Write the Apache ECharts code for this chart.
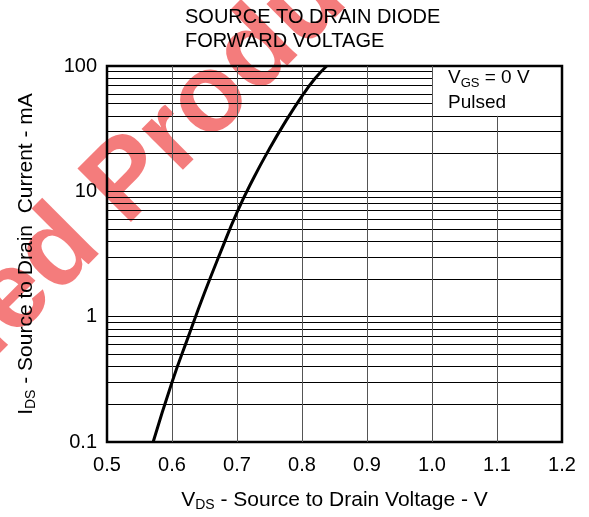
<!DOCTYPE html>
<html>
<head>
<meta charset="utf-8">
<script src="https://cdn.jsdelivr.net/npm/echarts@6/dist/echarts.min.js"></script>
<style>
  html, body { margin: 0; padding: 0; background: #fff; }
  #chart { width: 589px; height: 517px; }
</style>
</head>
<body>
<div id="chart"></div>
<script>
// curve (V, mA)
const vds = [0.571, 0.6, 0.625, 0.65, 0.675, 0.7, 0.725, 0.75, 0.775, 0.8, 0.82, 0.838];
const ids = [0.1, 0.30, 0.69, 1.55, 3.3, 6.8, 12.6, 21.9, 36.3, 57.5, 79.4, 100];

const xTicks = [0.5, 0.6, 0.7, 0.8, 0.9, 1.0, 1.1, 1.2];
const yDecades = [0.1, 1, 10, 100];
const yGridLines = [0.2, 0.3, 0.4, 0.5, 0.6, 0.7, 0.8, 0.9,
                    1, 2, 3, 4, 5, 6, 7, 8, 9,
                    10, 20, 30, 40, 50, 60, 70, 80, 90];
const xGridLines = [0.6, 0.7, 0.8, 0.9, 1.0, 1.1];

// legend box sits in the top-right corner, grid lines stop at its edge
const boxLeft = 1.0;
const boxBottom = 40;

const FONT = '"Liberation Sans", Arial, Helvetica, sans-serif';
const xMin = xTicks[0], xMax = xTicks[xTicks.length - 1];
const yMin = yDecades[0], yMax = yDecades[yDecades.length - 1];

let gridLines = [];
yGridLines.forEach(v => {
    let end = v > boxBottom ? boxLeft : xMax;
    gridLines.push([{ coord: [xMin, v] }, { coord: [end, v], lineStyle: { color: '#000' } }]);
});
xGridLines.forEach(v => {
    let end = v > boxLeft ? boxBottom : yMax;
    gridLines.push([{ coord: [v, yMin] }, { coord: [v, end], lineStyle: { color: '#555' } }]);
});

const myChart = echarts.init(document.getElementById('chart'));

let option = {
    animation: false,
    backgroundColor: '#fff',
    grid: {
        left: 107,
        right: 27,
        top: 66,
        bottom: 75,
        show: true,
        borderColor: '#000',
        borderWidth: 2.5,
        z: 3
    },
    xAxis: {
        type: 'value',
        min: xMin,
        max: xMax,
        interval: 0.1,
        axisLine: { show: false },
        axisTick: { show: false },
        splitLine: { show: false },
        axisLabel: {
            margin: 13,
            fontSize: 20,
            fontFamily: FONT,
            color: '#000',
            formatter: v => v.toFixed(1)
        },
        name: '{a|V}{b|DS}{a| - Source to Drain Voltage - V}',
        nameLocation: 'middle',
        nameGap: 46,
        nameTextStyle: {
            rich: {
                a: { fontSize: 21, fontFamily: FONT, color: '#000', lineHeight: 24 },
                b: { fontSize: 14, fontFamily: FONT, color: '#000', lineHeight: 19, verticalAlign: 'bottom' }
            }
        }
    },
    yAxis: {
        type: 'log',
        logBase: 10,
        min: yMin,
        max: yMax,
        axisLine: { show: false },
        axisTick: { show: false },
        splitLine: { show: false },
        axisLabel: {
            margin: 10,
            fontSize: 20,
            fontFamily: FONT,
            color: '#000',
            formatter: v => String(parseFloat(v.toPrecision(3)))
        },
        name: '{a|I}{b|DS}{a| - Source to Drain  Current - mA}',
        nameLocation: 'middle',
        nameRotate: 90,
        nameGap: 69,
        nameTextStyle: {
            rich: {
                a: { fontSize: 21, fontFamily: FONT, color: '#000', lineHeight: 24 },
                b: { fontSize: 14, fontFamily: FONT, color: '#000', lineHeight: 19, verticalAlign: 'bottom' }
            }
        }
    },
    graphic: [
        {
            type: 'text',
            z: 0,
            x: -6,
            y: 316,
            rotation: Math.PI / 4,
            silent: true,
            style: {
                text: 'Discontinued Product',
                fontSize: 110,
                fontWeight: 'bold',
                fontFamily: FONT,
                fill: 'rgba(236, 30, 30, 0.58)',
                align: 'center',
                verticalAlign: 'middle'
            }
        },
        {
            type: 'text',
            z: 100,
            left: 185,
            top: 5,
            style: {
                text: 'SOURCE TO DRAIN DIODE\nFORWARD VOLTAGE',
                fontSize: 20,
                lineHeight: 24,
                fontFamily: FONT,
                fill: '#000'
            }
        },
        {
            type: 'text',
            z: 100,
            left: 448,
            top: 68,
            style: {
                text: '{a|V}{b|GS}{a| = 0 V}\n{a|Pulsed}',
                rich: {
                    a: { fontSize: 19, fontFamily: FONT, fill: '#000', lineHeight: 25 },
                    b: { fontSize: 13, fontFamily: FONT, fill: '#000', lineHeight: 20, verticalAlign: 'bottom' }
                }
            }
        }
    ],
    series: [
        {
            name: 'grid lines',
            type: 'line',
            data: [],
            z: 2,
            silent: true,
            markLine: {
                silent: true,
                symbol: 'none',
                animation: false,
                label: { show: false },
                lineStyle: { type: 'solid', width: 1, color: '#000' },
                data: gridLines
            }
        },
        {
            name: 'IDS',
            type: 'line',
            z: 5,
            smooth: true,
            symbol: 'none',
            lineStyle: { color: '#000', width: 3 },
            data: vds.map((v, i) => [v, ids[i]])
        }
    ]
};
myChart.setOption(option);
window.addEventListener('resize', () => myChart.resize(), false);
</script>
</body>
</html>
